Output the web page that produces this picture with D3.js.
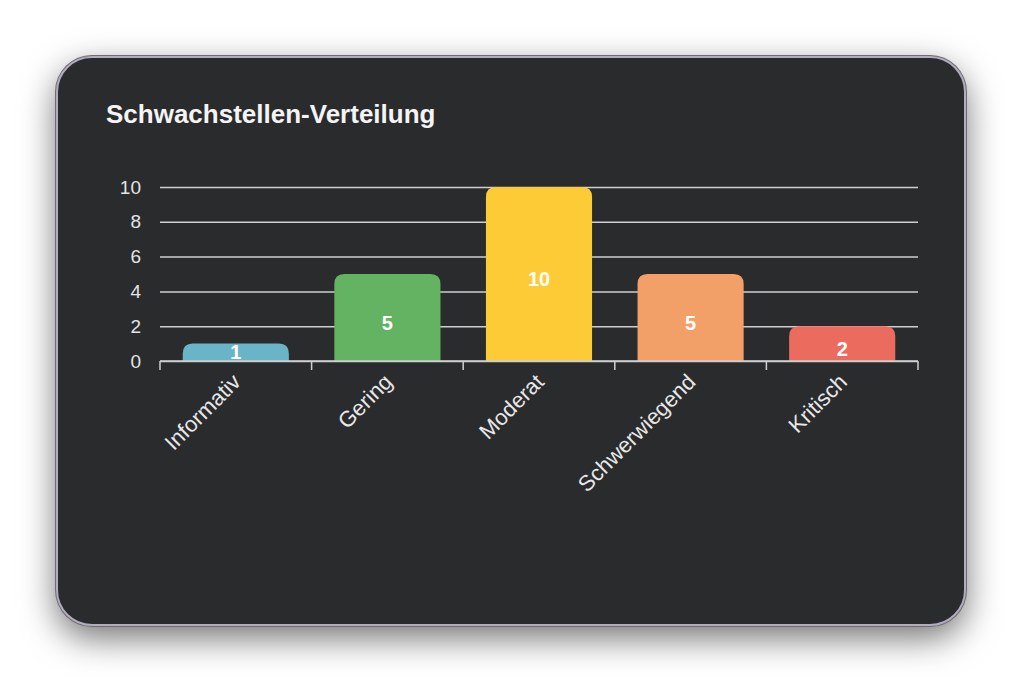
<!DOCTYPE html>
<html>
<head>
<meta charset="utf-8">
<script src="https://cdn.jsdelivr.net/npm/d3@7"></script>
<style>
  html, body { margin: 0; padding: 0; background: #fff; width: 1024px; height: 683px; overflow: hidden; }
  .card {
    position: absolute; left: 56px; top: 56px; width: 906px; height: 566px;
    background: #2a2b2d; border: 2px solid #b2acbc; border-radius: 36px;
    box-shadow: 0 0 0 1px #6d6b72, 0 12px 34px rgba(0,0,0,0.55);
  }
  svg { position: absolute; left: 0; top: 0; }
  text { font-family: "Liberation Sans", Arial, sans-serif; }
</style>
</head>
<body>
<div class="card"></div>
<svg id="chart" width="1024" height="683"></svg>
<script>
const categories = ['Informativ', 'Gering', 'Moderat', 'Schwerwiegend', 'Kritisch']
const counts     = [1, 5, 10, 5, 2]
const colors     = ['#6ab4c8', '#63b363', '#fdcb36', '#f3a068', '#ec6b5f']
const yTicks     = [0, 2, 4, 6, 8, 10]
const title      = 'Schwachstellen-Verteilung'

const svg = d3.select('#chart'),
      L = 160, R = 918, T = 187, B = 361

// band for tick edges, band with padding for bars
let x0 = d3.scaleBand().domain(categories).range([L, R]),
    x  = d3.scaleBand().domain(categories).range([L, R]).paddingInner(0.3).paddingOuter(0.15),
    y  = d3.scaleLinear().domain([0, 10]).range([B, T])

svg.append('text')
  .attr('x', 106).attr('y', 123)
  .attr('font-size', 26).attr('font-weight', 'bold')
  .attr('fill', '#f4f4f4')
  .text(title)

// grid + y labels
let gy = svg.append('g').attr('transform', `translate(${L},0)`)
  .call(d3.axisLeft(y).tickValues(yTicks).tickSize(-(R - L)).tickPadding(19))
gy.select('.domain').remove()
gy.selectAll('.tick line').attr('stroke', '#cfcfcf').attr('stroke-width', 1.5)
gy.selectAll('.tick text').attr('fill', '#e4e4e4').attr('font-size', 19)
  .attr('font-family', '"Liberation Sans", Arial, sans-serif')

// bars, rounded on top
function barPath(d, i) {
  let x1 = x(categories[i]), w = x.bandwidth(),
      y1 = y(d), h = B - y1, r = Math.min(10, h)
  return `M${x1},${B}V${y1 + r}Q${x1},${y1} ${x1 + r},${y1}H${x1 + w - r}Q${x1 + w},${y1} ${x1 + w},${y1 + r}V${B}Z`
}
svg.append('g').selectAll('path').data(counts).join('path')
  .attr('d', barPath)
  .attr('fill', (d, i) => colors[i])

// x axis line and boundary ticks
let gx = svg.append('g').attr('transform', `translate(0,${B})`)
gx.append('line').attr('x1', L).attr('x2', R).attr('stroke', '#cfcfcf').attr('stroke-width', 1.5)
let edges = categories.map(c => x0(c)).concat([R])
gx.selectAll('.edge').data(edges).join('line')
  .attr('class', 'edge')
  .attr('x1', d => d).attr('x2', d => d)
  .attr('y1', 0).attr('y2', 9)
  .attr('stroke', '#cfcfcf').attr('stroke-width', 1.5)

// rotated category labels
svg.append('g').selectAll('text').data(categories).join('text')
  .attr('transform', d => `translate(${x0(d) + x0.bandwidth() / 2 + 1},${B + 17}) rotate(-45)`)
  .attr('text-anchor', 'end')
  .attr('dominant-baseline', 'central')
  .attr('font-size', 22)
  .attr('fill', '#e8e8e8')
  .text(d => d)

// value labels
svg.append('g').selectAll('text').data(counts).join('text')
  .attr('x', (d, i) => x(categories[i]) + x.bandwidth() / 2)
  .attr('y', d => Math.min((y(d) + B) / 2 + 5, B - 9))
  .attr('text-anchor', 'middle')
  .attr('dominant-baseline', 'central')
  .attr('font-size', 20).attr('font-weight', 'bold')
  .attr('fill', '#ffffff')
  .text(d => d)
</script>
</body>
</html>
